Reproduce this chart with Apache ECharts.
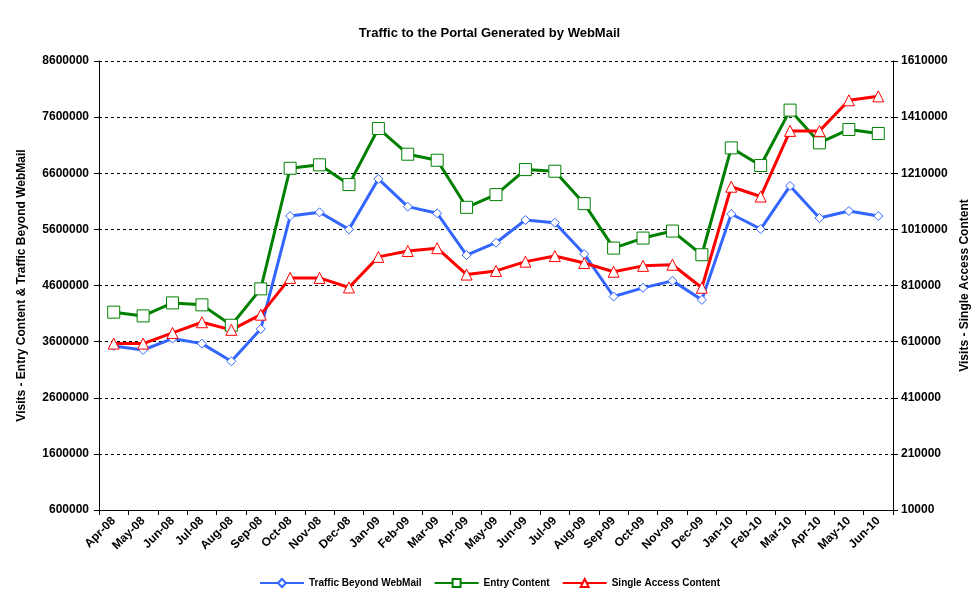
<!DOCTYPE html>
<html><head><meta charset="utf-8">
<script src="https://cdn.jsdelivr.net/npm/echarts@6/dist/echarts.min.js"></script>
<style>html,body{margin:0;padding:0;background:#fff}#c{width:979px;height:603px}</style>
</head><body><div id="c"></div>
<script>
const categories = ['Apr-08','May-08','Jun-08','Jul-08','Aug-08','Sep-08','Oct-08','Nov-08','Dec-08','Jan-09','Feb-09','Mar-09','Apr-09','May-09','Jun-09','Jul-09','Aug-09','Sep-09','Oct-09','Nov-09','Dec-09','Jan-10','Feb-10','Mar-10','Apr-10','May-10','Jun-10'];
const trafficBeyond = [3523000,3451000,3654000,3564000,3249000,3826000,5838000,5904000,5600000,6499000,6005000,5886000,5142000,5362000,5767000,5719000,5160000,4404000,4558000,4683000,4344000,5874000,5606000,6374000,5802000,5927000,5838000];
const entryContent = [4125000,4058000,4290000,4255000,3892000,4540000,6689000,6750000,6398000,7398000,6939000,6832000,5993000,6219000,6665000,6636000,6058000,5267000,5445000,5570000,5148000,7052000,6737000,7725000,7142000,7380000,7309000];
const singleAccess = [603000,603000,641000,679000,652000,706000,837000,837000,803000,912000,933000,943000,849000,862000,895000,915000,890000,859000,880000,884000,802000,1162000,1127000,1361000,1361000,1470000,1484000];
const seriesNames = ['Traffic Beyond WebMail','Entry Content','Single Access Content'];

const font = 'Liberation Sans, Arial, sans-serif';
const lbl = {fontFamily: font, fontWeight: 'bold', fontSize: 12, color: '#000'};
const plain = v => String(v);
const chart = echarts.init(document.getElementById('c'));
chart.setOption({
  animation: false,
  backgroundColor: '#fff',
  title: {text: 'Traffic to the Portal Generated by WebMail', left: 'center', top: 22,
    textStyle: {fontFamily: font, fontWeight: 'bold', fontSize: 13, color: '#000'}},
  legend: {bottom: 10, left: 'center', itemWidth: 44, itemHeight: 10, itemGap: 12,
    textStyle: {fontFamily: font, fontWeight: 'bold', fontSize: 10, color: '#000'},
    data: seriesNames},
  grid: {left: 99, right: 86, top: 61, bottom: 93},
  xAxis: {type: 'category', data: categories, boundaryGap: true,
    axisLine: {lineStyle: {color: '#000', width: 1}},
    axisTick: {show: true, length: 5, lineStyle: {color: '#000'}},
    axisLabel: Object.assign({rotate: 45, interval: 0, margin: 9}, lbl)},
  yAxis: [
    {type: 'value', min: 600000, max: 8600000, interval: 1000000,
     name: 'Visits - Entry Content & Traffic Beyond WebMail', nameLocation: 'middle', nameGap: 71, nameRotate: 90,
     nameTextStyle: Object.assign({}, lbl, {fontSize: 12}),
     axisLine: {show: true, lineStyle: {color: '#000'}},
     axisTick: {show: true, length: 5, lineStyle: {color: '#000'}},
     axisLabel: Object.assign({margin: 10, formatter: plain}, lbl),
     splitLine: {show: true, lineStyle: {color: '#000', type: [3, 3], width: 1}}},
    {type: 'value', min: 10000, max: 1610000, interval: 200000,
     name: 'Visits - Single Access Content', nameLocation: 'middle', nameGap: 66, nameRotate: 90,
     nameTextStyle: Object.assign({}, lbl, {fontSize: 12}),
     axisLine: {show: true, lineStyle: {color: '#000'}},
     axisTick: {show: true, length: 5, lineStyle: {color: '#000'}},
     axisLabel: Object.assign({margin: 8, formatter: plain}, lbl),
     splitLine: {show: false}}
  ],
  series: [
    {name: seriesNames[0], type: 'line', yAxisIndex: 0, data: trafficBeyond,
     symbol: 'diamond', symbolSize: 9, color: '#3366FF',
     lineStyle: {width: 3, color: '#3366FF'},
     itemStyle: {color: '#fff', borderColor: '#3366FF', borderWidth: 1}},
    {name: seriesNames[1], type: 'line', yAxisIndex: 0, data: entryContent,
     symbol: 'rect', symbolSize: 12, color: '#008000',
     lineStyle: {width: 3, color: '#008000'},
     itemStyle: {color: '#fff', borderColor: '#008000', borderWidth: 1}},
    {name: seriesNames[2], type: 'line', yAxisIndex: 1, data: singleAccess,
     symbol: 'triangle', symbolSize: 11, color: '#FF0000',
     lineStyle: {width: 3, color: '#FF0000'},
     itemStyle: {color: '#fff', borderColor: '#FF0000', borderWidth: 1}}
  ]
});
</script></body></html>
